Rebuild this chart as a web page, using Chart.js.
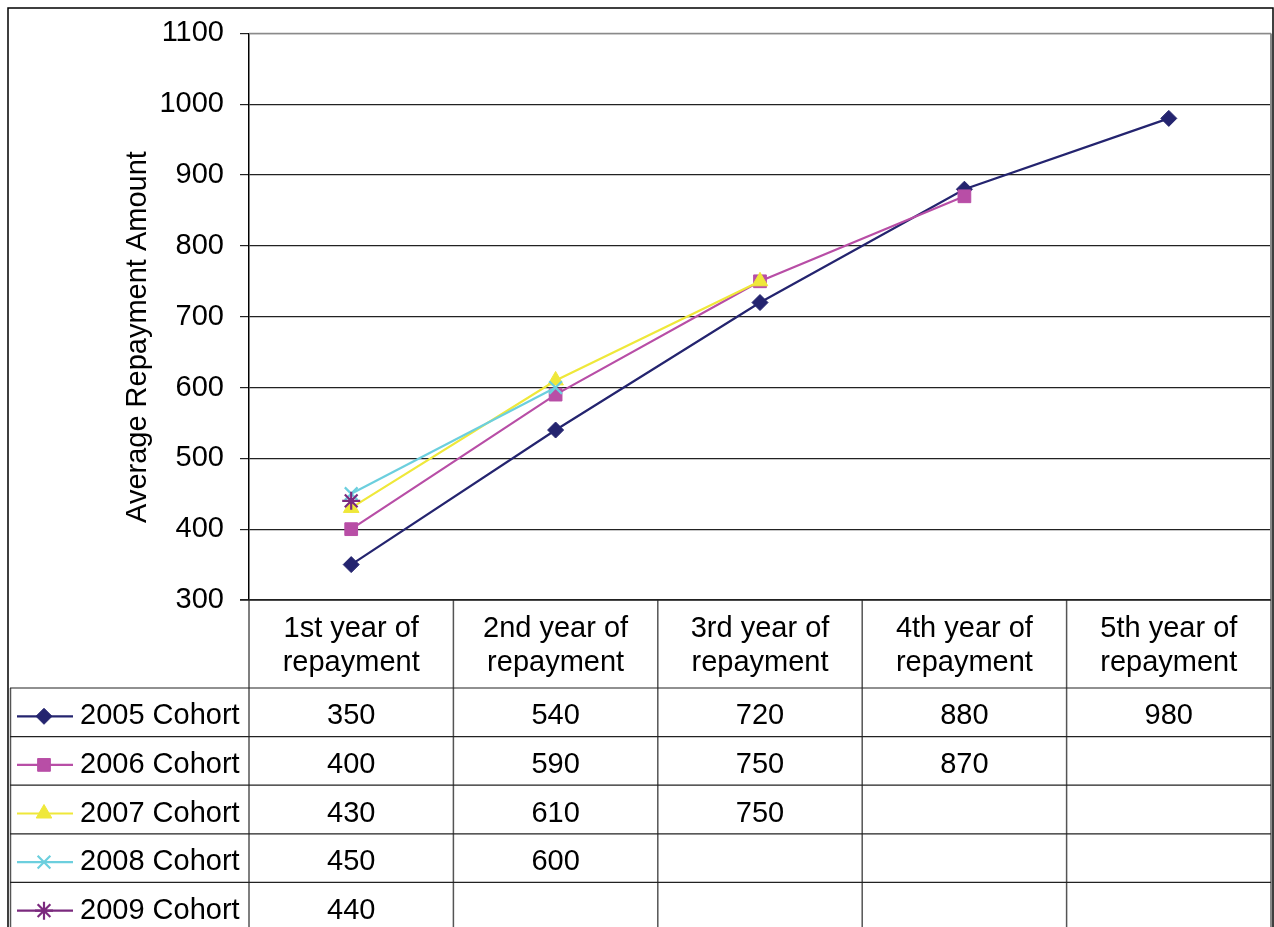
<!DOCTYPE html>
<html>
<head>
<meta charset="utf-8">
<script src="https://cdn.jsdelivr.net/npm/chart.js@4"></script>
<style>
  body { margin: 0; background: #fff; }
  canvas { display: block; }
</style>
</head>
<body>
<canvas id="repayment-chart" width="1274" height="927"></canvas>
<script>
const CATEGORIES = [
  ['1st year of', 'repayment'],
  ['2nd year of', 'repayment'],
  ['3rd year of', 'repayment'],
  ['4th year of', 'repayment'],
  ['5th year of', 'repayment'],
];

const SERIES_LABELS = ['2005 Cohort', '2006 Cohort', '2007 Cohort', '2008 Cohort', '2009 Cohort'];

const COHORT_2005 = [350, 540, 720, 880, 980];
const COHORT_2006 = [400, 590, 750, 870, null];
const COHORT_2007 = [430, 610, 750, null, null];
const COHORT_2008 = [450, 600, null, null, null];
const COHORT_2009 = [440, null, null, null, null];

const Y_MIN = 300;
const Y_MAX = 1100;
const Y_STEP = 100;

const FONT_FAMILY = '"Liberation Sans", Arial, sans-serif';
const FONT_SIZE = 29;

const COLORS = {
  navy: '#24246f',
  magenta: '#b84ea6',
  yellow: '#efe83a',
  cyan: '#6ccfde',
  purple: '#7b2a7e',
  grid: '#222222',
  frame: '#8a8a8a',
};

function makeDataset(label, data, color, pointStyle, radius, index) {
  return {
    label: label,
    data: data,
    borderColor: color,
    backgroundColor: color,
    borderWidth: 2.2,
    pointStyle: pointStyle,
    pointRadius: radius,
    pointBorderWidth: pointStyle === 'crossRot' || pointStyle === 'star' ? 2.2 : 1,
    pointBackgroundColor: color,
    pointBorderColor: color,
    spanGaps: false,
    order: 5 - index,
  };
}

const datasets = [
  makeDataset(SERIES_LABELS[0], COHORT_2005, COLORS.navy, 'rectRot', 8, 0),
  makeDataset(SERIES_LABELS[1], COHORT_2006, COLORS.magenta, 'rect', 9, 1),
  makeDataset(SERIES_LABELS[2], COHORT_2007, COLORS.yellow, 'triangle', 9, 2),
  makeDataset(SERIES_LABELS[3], COHORT_2008, COLORS.cyan, 'crossRot', 9, 3),
  makeDataset(SERIES_LABELS[4], COHORT_2009, COLORS.purple, 'star', 9, 4),
];

// table geometry below the plot
const HEADER_BOTTOM = 688;
const ROW_HEIGHT = 48.6;

function line(ctx, x1, y1, x2, y2, color, width) {
  ctx.save();
  ctx.strokeStyle = color;
  ctx.lineWidth = width || 1;
  ctx.beginPath();
  ctx.moveTo(x1, y1);
  ctx.lineTo(x2, y2);
  ctx.stroke();
  ctx.restore();
}

const dataTablePlugin = {
  id: 'dataTable',
  beforeDraw(chart) {
    const ctx = chart.ctx;
    ctx.save();
    ctx.fillStyle = '#fff';
    ctx.fillRect(0, 0, chart.width, chart.height);
    ctx.restore();
  },
  afterDraw(chart) {
    const ctx = chart.ctx;
    const area = chart.chartArea;
    const x = chart.scales.x;
    const half = (x.getPixelForValue(1) - x.getPixelForValue(0)) / 2;
    const bottom = chart.height;

    // plot frame (top and right in grey)
    line(ctx, area.left, area.top, area.right, area.top, COLORS.frame, 1.5);
    line(ctx, area.right, area.top, area.right, bottom, COLORS.frame, 2);

    // outer border
    ctx.save();
    ctx.strokeStyle = '#000';
    ctx.lineWidth = 1.5;
    ctx.strokeRect(8, 8, 1265, bottom + 10);
    ctx.restore();

    // column separators
    CATEGORIES.forEach((_, i) => {
      const left = x.getPixelForValue(i) - half;
      line(ctx, left, area.bottom, left, bottom, '#555', 1.5);
    });
    line(ctx, 10.5, HEADER_BOTTOM, 10.5, bottom, '#555', 1.5);

    // horizontal lines
    line(ctx, 240, area.bottom, area.right, area.bottom, COLORS.grid, 1.5);
    for (let r = 0; r < SERIES_LABELS.length; r++) {
      const y = HEADER_BOTTOM + r * ROW_HEIGHT;
      line(ctx, 10, y, area.right, y, COLORS.grid, 1.2);
    }

    ctx.save();
    ctx.font = FONT_SIZE + 'px ' + FONT_FAMILY;
    ctx.fillStyle = '#000';
    ctx.textAlign = 'center';

    // header labels
    CATEGORIES.forEach((lines, i) => {
      const cx = x.getPixelForValue(i);
      ctx.textBaseline = 'alphabetic';
      ctx.fillText(lines[0], cx, 637);
      ctx.fillText(lines[1], cx, 671);
    });

    // rows
    ctx.textBaseline = 'middle';
    chart.data.datasets.forEach((ds, r) => {
      const cy = HEADER_BOTTOM + r * ROW_HEIGHT + ROW_HEIGHT / 2 + 4;
      ds.data.forEach((v, i) => {
        if (v === null) return;
        ctx.textAlign = 'center';
        ctx.fillText(String(v), x.getPixelForValue(i), cy);
      });

      // legend key
      line(ctx, 17, cy, 73, cy, ds.borderColor, 2.2);
      ctx.save();
      ctx.fillStyle = ds.pointBackgroundColor;
      ctx.strokeStyle = ds.pointBorderColor;
      ctx.lineWidth = ds.pointBorderWidth;
      Chart.helpers.drawPoint(ctx, {
        pointStyle: ds.pointStyle,
        radius: ds.pointRadius,
        rotation: 0,
        borderWidth: ds.pointBorderWidth,
      }, 44, cy);
      ctx.restore();

      ctx.textAlign = 'left';
      ctx.fillText(ds.label, 80, cy);
    });

    // y axis title
    ctx.translate(138, 337);
    ctx.rotate(-Math.PI / 2);
    ctx.textAlign = 'center';
    ctx.textBaseline = 'middle';
    ctx.fillText('Average Repayment Amount', 0, 0);
    ctx.restore();
  },
};

function createChart() {
  const ctx = document.getElementById('repayment-chart').getContext('2d');
  new Chart(ctx, {
    type: 'line',
    data: {
      labels: CATEGORIES,
      datasets: datasets,
    },
    options: {
      responsive: false,
      animation: false,
      devicePixelRatio: 1,
      layout: {
        autoPadding: false,
        padding: { left: 0, top: 33, right: 3, bottom: 327 },
      },
      scales: {
        x: {
          type: 'category',
          display: false,
          offset: true,
        },
        y: {
          min: Y_MIN,
          max: Y_MAX,
          afterFit: (scale) => {
            scale.width = 249;
          },
          ticks: {
            stepSize: Y_STEP,
            padding: 16,
            color: '#000',
            font: { family: FONT_FAMILY, size: FONT_SIZE },
            callback: (value) => String(value),
          },
          grid: {
            color: (c) => (c.tick && c.tick.value === Y_MAX ? COLORS.frame : COLORS.grid),
            tickColor: COLORS.grid,
            tickLength: 9,
            lineWidth: 1.2,
          },
          border: {
            display: true,
            color: '#000',
            width: 1.5,
          },
        },
      },
      plugins: {
        legend: { display: false },
        tooltip: { enabled: false },
        title: { display: false },
      },
    },
    plugins: [dataTablePlugin],
  });
}

createChart();
</script>
</body>
</html>
